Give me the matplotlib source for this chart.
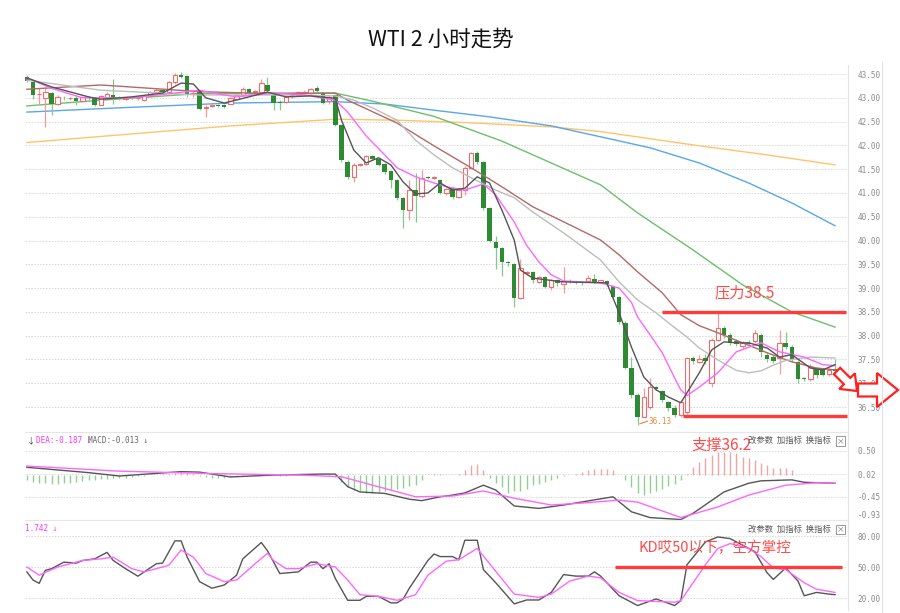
import matplotlib
matplotlib.use("Agg")
import matplotlib.pyplot as plt
from matplotlib.patches import FancyArrow, Rectangle
from matplotlib.lines import Line2D

plt.rcParams['font.family'] = ['Noto Sans CJK SC', 'DejaVu Sans']

# K线数据 (2小时)
opens = [43.43, 43.34, 43.07, 43.00, 43.10, 42.88, 43.00, 42.99, 42.99, 42.94,
         43.00, 42.99, 42.85, 43.00, 43.06, 43.00, 42.98, 43.01, 42.99, 42.95,
         43.04, 43.13, 43.16, 43.13, 43.34, 43.47, 43.45, 43.08, 43.12, 42.79,
         42.82, 42.85, 42.84, 42.88, 42.97, 43.06, 43.18, 43.13, 43.12, 43.26,
         43.06, 42.92, 42.92, 43.03, 43.05, 43.11, 43.10, 43.20, 43.10, 42.94,
         43.06, 42.43, 41.66, 41.33, 41.59, 41.60, 41.78, 41.72, 41.60, 41.46,
         41.27, 40.90, 40.64, 41.06, 40.94, 41.33, 41.32, 41.27, 41.00, 41.10,
         40.92, 41.06, 41.52, 41.84, 41.65, 40.68, 39.97, 39.84, 39.54, 39.50,
         38.80, 39.31, 39.33, 39.13, 39.23, 39.03, 39.17, 39.08, 39.14, 39.12,
         39.12, 39.15, 39.20, 39.12, 39.15, 39.05, 38.82, 38.27, 37.32, 36.76,
         36.30, 36.50, 36.92, 36.83, 36.60, 36.48, 36.33, 36.40, 37.53, 37.45,
         37.53, 37.00, 37.90, 38.16, 38.02, 37.88, 37.78, 37.85, 37.88, 38.02,
         37.60, 37.55, 37.53, 37.85, 37.77, 37.45, 37.10, 37.08, 37.30, 37.30,
         37.20, 37.30]
highs = [43.47, 43.36, 43.20, 43.22, 43.13, 43.05, 43.04, 43.02, 43.06, 43.04,
         43.03, 43.02, 43.06, 43.12, 43.40, 43.03, 43.02, 43.04, 43.02, 43.06,
         43.14, 43.20, 43.18, 43.36, 43.52, 43.55, 43.47, 43.14, 43.14, 42.84,
         42.87, 42.87, 42.86, 43.02, 43.08, 43.23, 43.20, 43.16, 43.40, 43.44,
         43.08, 42.95, 43.05, 43.08, 43.15, 43.16, 43.20, 43.25, 43.12, 43.05,
         43.08, 42.45, 41.70, 41.62, 41.63, 41.80, 41.80, 41.74, 41.62, 41.48,
         41.30, 40.92, 41.27, 41.42, 41.48, 41.36, 41.35, 41.30, 41.10, 41.12,
         41.10, 41.56, 41.86, 41.88, 41.68, 40.70, 40.10, 39.86, 39.56, 39.52,
         39.62, 39.36, 39.36, 39.26, 39.25, 39.20, 39.20, 39.45, 39.20, 39.13,
         39.14, 39.28, 39.30, 39.18, 39.17, 39.07, 38.84, 38.30, 37.55, 36.80,
         36.90, 37.10, 36.95, 36.85, 36.62, 36.55, 36.65, 37.56, 37.58, 37.60,
         37.62, 37.95, 38.48, 38.20, 38.05, 37.92, 37.88, 37.90, 38.12, 38.06,
         37.65, 37.60, 38.12, 38.08, 37.80, 37.48, 37.14, 37.40, 37.34, 37.33,
         37.32, 37.50]
lows = [43.33, 42.98, 42.85, 42.39, 42.64, 42.84, 42.96, 42.95, 42.85, 42.92,
        42.96, 42.83, 42.84, 42.97, 42.86, 42.96, 42.95, 42.97, 42.96, 42.93,
        43.02, 43.10, 43.08, 43.10, 43.30, 43.42, 43.02, 43.02, 42.75, 42.60,
        42.80, 42.80, 42.78, 42.86, 42.95, 43.04, 43.05, 43.10, 43.10, 43.10,
        42.74, 42.74, 42.90, 43.00, 43.03, 43.10, 43.08, 43.12, 42.86, 42.86,
        42.40, 41.66, 41.30, 41.23, 41.57, 41.58, 41.70, 41.56, 41.40, 41.10,
        40.85, 40.26, 40.43, 40.38, 40.90, 41.29, 41.30, 40.98, 40.95, 40.87,
        40.90, 40.95, 41.50, 41.60, 40.65, 39.97, 39.40, 39.25, 39.46, 38.60,
        38.78, 39.28, 39.10, 39.10, 39.00, 38.95, 39.05, 38.90, 39.10, 39.08,
        39.07, 39.13, 39.10, 39.10, 39.05, 38.80, 38.25, 37.30, 36.70, 36.13,
        36.28, 36.45, 36.85, 36.60, 36.42, 36.28, 36.30, 36.35, 37.40, 37.42,
        37.40, 36.92, 37.88, 37.95, 37.80, 37.78, 37.75, 37.80, 37.85, 37.55,
        37.45, 37.42, 37.20, 37.72, 37.45, 37.00, 37.05, 37.05, 37.12, 37.15,
        37.15, 37.22]
closes = [43.36, 43.05, 43.09, 43.12, 42.86, 43.02, 42.99, 43.00, 42.93, 43.01,
          42.99, 42.85, 43.03, 43.08, 43.00, 42.99, 43.00, 42.99, 43.00, 43.04,
          43.12, 43.16, 43.12, 43.34, 43.48, 43.44, 43.08, 43.11, 42.77, 42.81,
          42.85, 42.83, 42.81, 43.00, 43.06, 43.18, 43.10, 43.14, 43.31, 43.14,
          42.89, 42.90, 43.02, 43.06, 43.12, 43.13, 43.18, 43.14, 42.89, 43.02,
          42.43, 41.69, 41.34, 41.59, 41.61, 41.78, 41.72, 41.59, 41.44, 41.27,
          40.90, 40.64, 41.06, 40.94, 41.31, 41.31, 41.33, 41.00, 41.08, 40.92,
          41.06, 41.52, 41.83, 41.65, 40.68, 40.00, 39.84, 39.55, 39.52, 38.80,
          39.42, 39.33, 39.17, 39.23, 39.03, 39.17, 39.10, 39.15, 39.12, 39.10,
          39.10, 39.22, 39.12, 39.16, 39.08, 38.82, 38.28, 37.32, 36.76, 36.30,
          36.72, 36.93, 36.88, 36.65, 36.48, 36.33, 36.60, 37.53, 37.47, 37.52,
          37.46, 37.90, 38.16, 38.02, 37.85, 37.82, 37.84, 37.83, 38.05, 37.66,
          37.50, 37.47, 37.85, 37.77, 37.50, 37.08, 37.08, 37.35, 37.17, 37.17,
          37.28, 37.25]

# 均线 (K线序号, 数值)
ma5_i = [0, 4, 10, 12, 17, 22, 25, 27, 29, 32, 36, 39, 42, 46, 50, 51, 53, 55, 57, 59,
         61, 63, 65, 67, 69, 71, 73, 75, 77, 79, 80, 82, 87, 94, 96, 98, 100, 102, 104, 106,
         107, 109, 111, 113, 115, 117, 120, 122, 124, 127, 129, 131]
ma5_v = [43.42, 43.23, 43.02, 42.97, 43.02, 43.10, 43.31, 43.29, 43.00, 42.89, 43.02, 43.12,
         43.02, 43.04, 42.99, 42.53, 41.90, 41.63, 41.74, 41.59, 41.23, 40.98, 41.00, 41.21,
         41.06, 41.10, 41.34, 41.21, 40.64, 40.01, 39.38, 39.21, 39.13, 39.11, 38.48, 37.76,
         37.13, 36.86, 36.71, 36.59, 36.80, 37.22, 37.70, 37.87, 37.85, 37.85, 37.74, 37.55,
         37.60, 37.32, 37.28, 37.39]
ma10_i = [0, 4, 9, 17, 24, 28, 31, 34, 40, 45, 50, 52, 55, 58, 60, 63, 66, 68, 71, 74,
          76, 79, 81, 83, 85, 87, 93, 96, 98, 99, 101, 103, 105, 106, 107, 109, 112, 115,
          119, 122, 126, 129, 131]
ma10_v = [43.42, 43.20, 43.00, 43.00, 43.10, 43.16, 43.08, 43.02, 43.10, 43.06, 42.95, 42.70,
          42.20, 41.80, 41.53, 41.34, 41.21, 41.13, 41.06, 41.19, 40.96, 40.39, 39.90, 39.55,
          39.28, 39.15, 39.11, 39.00, 38.70, 38.39, 38.02, 37.64, 37.11, 36.86, 36.74, 36.92,
          37.22, 37.66, 37.85, 37.66, 37.55, 37.39, 37.37]
ma20_i = [0, 12, 28, 44, 50, 53, 56, 60, 63, 66, 69, 72, 76, 79, 82, 87, 93, 96, 99, 102,
          104, 107, 109, 112, 115, 117, 119, 121, 123, 127, 131]
ma20_v = [43.37, 43.16, 43.06, 43.06, 43.04, 42.95, 42.79, 42.53, 42.11, 41.80, 41.53, 41.32,
          41.06, 40.90, 40.60, 40.16, 39.59, 39.13, 38.75, 38.48, 38.27, 37.97, 37.74, 37.49,
          37.27, 37.22, 37.26, 37.38, 37.48, 37.55, 37.53]
ma30_i = [0, 12, 28, 39, 50, 52, 60, 66, 72, 77, 82, 88, 93, 96, 99, 103, 106, 109, 112,
          116, 120, 124, 128, 131]
ma30_v = [43.18, 43.27, 43.13, 43.09, 43.10, 42.95, 42.47, 41.99, 41.53, 41.13, 40.71, 40.33,
          40.01, 39.70, 39.34, 38.90, 38.44, 38.21, 38.06, 37.85, 37.64, 37.45, 37.32, 37.28]
ma60_i = [0, 12, 28, 50, 56, 66, 77, 93, 99, 108, 116, 124, 131]
ma60_v = [42.83, 42.95, 43.09, 43.10, 42.93, 42.61, 42.09, 41.17, 40.58, 39.80, 39.07, 38.50, 38.18]
ma120_i = [0, 15, 33, 50, 58, 66, 75, 85, 93, 101, 109, 117, 124, 131]
ma120_v = [42.70, 42.79, 42.89, 42.92, 42.87, 42.74, 42.60, 42.41, 42.18, 41.95, 41.63, 41.21,
           40.79, 40.31]
ma250_i = [0, 15, 33, 44, 50, 60, 71, 85, 93, 108, 120, 131]
ma250_v = [42.06, 42.22, 42.41, 42.50, 42.55, 42.53, 42.48, 42.39, 42.29, 42.01, 41.80, 41.59]

# MACD
macd_hist = [-0.10, -0.14, -0.17, -0.17, -0.19, -0.19, -0.17, -0.16, -0.14, -0.12,
             -0.10, -0.10, -0.09, -0.08, -0.07, -0.07, -0.06, -0.05, -0.03, -0.01,
             0.00, 0.01, 0.02, 0.03, 0.05, 0.07, 0.05, 0.02, -0.02, -0.05,
             -0.06, -0.07, -0.06, -0.05, -0.03, -0.01, 0.01, 0.02, 0.03, 0.02,
             0.01, -0.01, -0.01, 0.00, 0.01, 0.01, 0.02, 0.01, 0.00, -0.01,
             -0.05, -0.14, -0.24, -0.31, -0.34, -0.38, -0.38, -0.36, -0.33, -0.31,
             -0.28, -0.26, -0.22, -0.21, -0.10, 0.01, 0.02, 0.02, 0.01, 0.01,
             0.03, 0.10, 0.20, 0.22, 0.10, -0.07, -0.17, -0.24, -0.38, -0.34,
             -0.33, -0.28, -0.21, -0.19, -0.14, -0.10, -0.07, -0.01, 0.01, 0.03,
             0.07, 0.10, 0.12, 0.12, 0.12, 0.10, 0.01, -0.10, -0.24, -0.38,
             -0.41, -0.38, -0.33, -0.28, -0.22, -0.19, -0.10, 0.03, 0.17, 0.26,
             0.345, 0.41, 0.47, 0.48, 0.48, 0.45, 0.38, 0.345, 0.31, 0.24,
             0.21, 0.14, 0.14, 0.14, 0.10, 0.01, 0.01, 0.01, 0.01, 0.01,
             0.01, 0.01]
dif_i = [0, 10, 15, 25, 28, 33, 40, 44, 48, 50, 52, 54, 58, 62, 64, 67, 69, 71, 74, 76,
         79, 83, 87, 95, 98, 101, 106, 108, 113, 117, 119, 124, 126, 131]
dif_v = [0.16, 0.05, -0.02, 0.07, 0.06, -0.04, 0.00, 0.01, 0.02, 0.02, -0.24, -0.35, -0.38,
         -0.50, -0.53, -0.45, -0.415, -0.37, -0.21, -0.31, -0.64, -0.69, -0.62, -0.45, -0.76,
         -0.88, -0.92, -0.79, -0.35, -0.17, -0.12, -0.10, -0.15, -0.17]
dea_i = [0, 15, 30, 44, 51, 63, 69, 74, 79, 85, 90, 96, 99, 106, 112, 117, 123, 128, 131]
dea_v = [0.186, 0.08, 0.03, 0.00, -0.035, -0.45, -0.435, -0.33, -0.48, -0.62, -0.58, -0.52,
         -0.56, -0.88, -0.66, -0.415, -0.21, -0.16, -0.17]
macd_ticks = [0.50, 0.02, -0.45, -0.93]

# KD
k_i = [0, 1, 2, 3, 4, 6, 8, 9, 11, 13, 14, 16, 18, 21, 22, 24, 25, 26, 28, 30,
       32, 34, 35, 38, 39, 41, 44, 46, 47, 48, 49, 50, 52, 54, 55, 57, 59, 60, 61, 62,
       65, 66, 67, 69, 70, 71, 73, 74, 76, 79, 81, 83, 85, 87, 89, 91, 92, 93, 96, 99,
       102, 105, 106, 107, 110, 112, 114, 117, 118, 120, 121, 123, 125, 126, 128, 130, 131]
k_v = [45.3, 37.4, 34.2, 46.8, 48.4, 54.7, 53.8, 56.3, 57.9, 64.2, 56.3, 48.4, 41.1, 53.2,
       53.8, 75.3, 75.3, 59.5, 35.8, 29.5, 32.6, 42.1, 57.9, 73.7, 65.8, 43.7, 45.3, 54.7,
       54.7, 48.4, 53.2, 38.9, 17.8, 17.8, 21.6, 21.6, 15.3, 15.3, 19.1, 29.5, 56.3, 62.6,
       60.1, 60.1, 57.0, 75.9, 75.9, 47.5, 34.8, 14.3, 18.1, 18.1, 25.4, 42.7, 41.2, 41.2,
       45.3, 41.2, 22.2, 12.7, 19.1, 12.7, 17.5, 52.2, 74.3, 79.1, 77.5, 68.0, 64.8, 44.3,
       38.0, 49.1, 36.4, 22.2, 25.4, 23.8, 23.2]
d_i = [0, 2, 5, 9, 12, 14, 17, 19, 23, 25, 27, 29, 32, 34, 37, 39, 40, 42, 44, 47,
       50, 52, 54, 57, 60, 63, 65, 68, 70, 73, 76, 79, 83, 85, 88, 91, 93, 96, 99, 105,
       106, 110, 112, 114, 117, 119, 121, 123, 126, 128, 131]
d_v = [50.0, 42.1, 50.0, 56.3, 57.9, 59.5, 48.4, 45.3, 51.6, 66.4, 59.5, 43.7, 35.8, 37.4,
       53.2, 63.3, 56.3, 48.4, 48.4, 53.2, 50.0, 37.4, 23.2, 21.6, 17.8, 23.2, 42.1, 55.7,
       57.0, 68.0, 45.9, 23.8, 20.6, 23.8, 36.4, 41.2, 39.6, 25.4, 17.5, 15.9, 17.5, 52.2,
       68.0, 72.7, 68.0, 60.1, 49.1, 47.5, 34.8, 28.5, 25.4]
kd_ticks = [80, 50, 20]

price_ticks = [43.5, 43.0, 42.5, 42.0, 41.5, 41.0, 40.5, 40.0, 39.5, 39.0, 38.5, 38.0, 37.5, 37.0, 36.5]

RED = '#f26b6b'
GREEN = '#2e8b34'
GRID = '#d8d8d8'
TICK = '#8a8a8a'

fig = plt.figure(figsize=(9, 6.13), dpi=100)
ax = fig.add_axes([25 / 900, 1 - 432 / 613, 823 / 900, 367 / 613])
ax2 = fig.add_axes([25 / 900, 1 - 520 / 613, 823 / 900, 88 / 613])
ax3 = fig.add_axes([25 / 900, 1 - 610 / 613, 823 / 900, 90 / 613])

n = len(closes)
xs = list(range(n))

# K线
for i in xs:
    o, h, l, c = opens[i], highs[i], lows[i], closes[i]
    if c >= o:
        ax.vlines(i, l, h, color='#f59a9a', lw=0.9, zorder=2)
        ax.bar(i, max(c - o, 0.012), bottom=o, width=0.72, facecolor='white',
               edgecolor=RED, lw=0.8, zorder=3)
    else:
        ax.vlines(i, l, h, color='#86c98a', lw=0.9, zorder=2)
        ax.bar(i, max(o - c, 0.012), bottom=c, width=0.72, color=GREEN, lw=0, zorder=3)

ax.plot(ma250_i, ma250_v, color='#ffc46a', lw=1.0, zorder=1)
ax.plot(ma120_i, ma120_v, color='#5aa6e8', lw=1.0, zorder=1)
ax.plot(ma60_i, ma60_v, color='#6cbf6c', lw=1.0, zorder=1)
ax.plot(ma30_i, ma30_v, color='#b06a6a', lw=1.0, zorder=4)
ax.plot(ma20_i, ma20_v, color='#bdbdbd', lw=1.0, zorder=4)
ax.plot(ma10_i, ma10_v, color='#ff66ff', lw=1.0, zorder=4)
ax.plot(ma5_i, ma5_v, color='#555555', lw=1.0, zorder=5)

ax.set_xlim(-0.3, 133.1)
ax.set_ylim(35.975, 43.69)
ax.set_yticks(price_ticks)
ax.set_yticklabels(['%.2f' % t for t in price_ticks])

# 压力 / 支撑
ax.hlines(38.5, 102.9, 132.7, color='#ff3b3b', lw=2.4, zorder=6)
ax.hlines(36.32, 106.3, 132.9, color='#ff3b3b', lw=2.4, zorder=6)
ax.text(116.4, 38.9, '压力38.5', color='#ff4a4a', fontsize=11, ha='center', va='center')
ax.plot([99.4, 100.6], [36.15, 36.2], color='#e8873a', lw=0.8, zorder=6)
ax.text(100.7, 36.2, '36.13', color='#e8873a', fontsize=5.5, family='DejaVu Sans Mono',
        ha='left', va='center')

# MACD
for i in xs:
    col = '#f4a3a3' if macd_hist[i] >= 0 else '#8fcf8f'
    ax2.vlines(i, 0, macd_hist[i], color=col, lw=1.0)
ax2.plot(dif_i, dif_v, color='#555555', lw=1.0)
ax2.plot(dea_i, dea_v, color='#ff66ff', lw=1.0)
ax2.set_xlim(-0.3, 133.1)
ax2.set_ylim(-0.93, 0.89)
ax2.set_yticks(macd_ticks)
ax2.set_yticklabels(['%.2f' % t for t in macd_ticks])
ax2.text(112.6, 0.62, '支撑36.2', color='#ff4a4a', fontsize=11, ha='center', va='center')

# KD
ax3.plot(k_i, k_v, color='#555555', lw=1.0)
ax3.plot(d_i, d_v, color='#ff66ff', lw=1.0)
ax3.set_xlim(-0.3, 133.1)
ax3.set_ylim(8.4, 95.5)
ax3.set_yticks(kd_ticks)
ax3.set_yticklabels(['%.2f' % t for t in kd_ticks])
ax3.hlines(50, 95.4, 132.2, color='#ff3b3b', lw=2.4)
ax3.text(111.5, 68.4, 'KD哎50以下，空方掌控', color='#ff4a4a', fontsize=10.5,
         ha='center', va='center')

for a in (ax, ax2, ax3):
    a.yaxis.tick_right()
    a.tick_params(axis='y', length=0, pad=7, labelsize=5.5, labelcolor=TICK)
    for lab in a.get_yticklabels():
        lab.set_family('DejaVu Sans Mono')
    a.set_xticks([])
    a.grid(axis='y', color=GRID, ls=(0, (1.5, 1.5)), lw=0.7)
    a.set_axisbelow(True)
    for s in ('left', 'bottom'):
        a.spines[s].set_visible(False)
    a.spines['top'].set_visible(False)
    a.spines['right'].set_color('#e3e3e3')
    a.spines['right'].set_linewidth(0.8)

ax2.spines['top'].set_visible(True)
ax2.spines['top'].set_color('#e6e6e6')
ax3.spines['top'].set_visible(True)
ax3.spines['top'].set_color('#e6e6e6')
ax2.get_yticklabels()[-1].set_verticalalignment('bottom')

# 指标栏文字
mono = 'DejaVu Sans Mono'
ax2.text(0.002, 0.90, '↓', transform=ax2.transAxes, color='#444444', fontsize=6, va='center')
ax2.text(0.013, 0.90, 'DEA:-0.187 ↓', transform=ax2.transAxes, color='#ff33ff', fontsize=5.5,
         family=mono, va='center')
ax2.text(0.077, 0.90, 'MACD:-0.013 ↓', transform=ax2.transAxes, color='#666666', fontsize=5.5,
         family=mono, va='center')
ax3.text(0.0, 0.91, '1.742 ↓', transform=ax3.transAxes, color='#ff33ff', fontsize=5.5,
         family=mono, va='center')
for a in (ax2, ax3):
    a.text(0.878, 0.90, '改参数  加指标  换指标', transform=a.transAxes, color='#555555',
           fontsize=6, va='center')
    a.add_patch(Rectangle((0.985, 0.84), 0.011, 0.11, transform=a.transAxes, fill=False,
                          edgecolor='#888888', lw=0.6, clip_on=False))
    a.text(0.9905, 0.895, '×', transform=a.transAxes, color='#666666', fontsize=5.5,
           ha='center', va='center')

# 标题
fig.text(441 / 900, 1 - 40 / 613, 'WTI 2 小时走势', fontsize=15.5, ha='center', va='center',
         color='#111111')

# 右侧竖线
fig.add_artist(Line2D([882 / 900, 882 / 900], [0, 1 - 62 / 613], color='#e0e0e0', lw=0.8))


# 箭头 (像素坐标)
def px(x, y):
    return x / 100, (613 - y) / 100


tx, ty = px(858, 390)
fig.patches.append(FancyArrow(tx, ty, 0.40, 0, width=0.13, head_width=0.34, head_length=0.21,
                              length_includes_head=True, facecolor='white', edgecolor='#ff2020',
                              lw=1.6, transform=fig.dpi_scale_trans, figure=fig))
dx, dy = px(837, 371)
fig.patches.append(FancyArrow(dx, dy, 0.20, -0.20, width=0.09, head_width=0.22, head_length=0.14,
                              length_includes_head=True, facecolor='white', edgecolor='#ff2020',
                              lw=1.6, transform=fig.dpi_scale_trans, figure=fig))

fig.savefig('out.png', dpi=100, facecolor='white')
